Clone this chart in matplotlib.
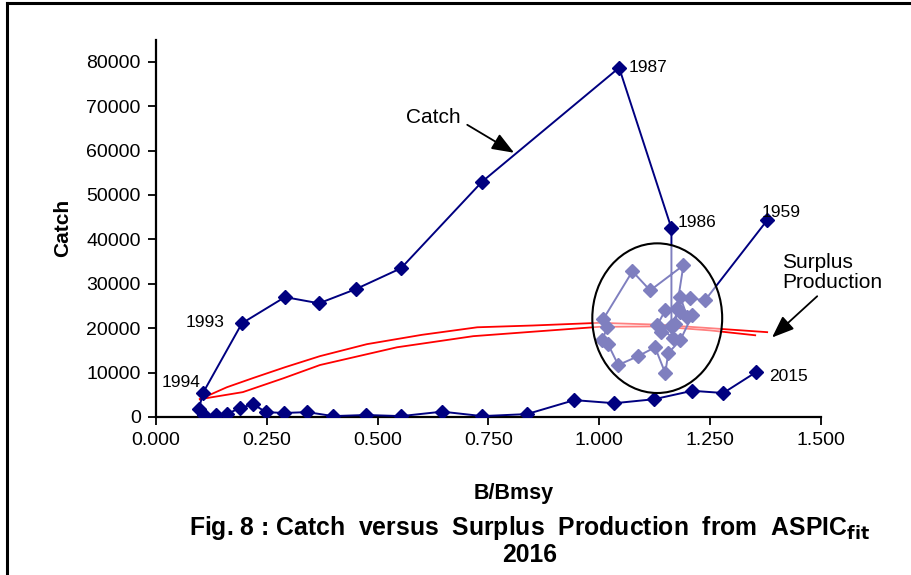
import numpy as np
import matplotlib.pyplot as plt
from matplotlib.patches import Ellipse
from matplotlib.lines import Line2D

# catch series, 1959..2015, in year order
years = list(range(1959, 2016))
b_ratio = [1.379,
           1.239, 1.205, 1.183, 1.199, 1.210, 1.183, 1.156, 1.149, 1.126, 1.088,
           1.043, 1.020, 1.007, 1.018, 1.009, 1.075, 1.115, 1.190, 1.175, 1.167,
           1.131, 1.149, 1.183, 1.140, 1.170, 1.163,
           1.163, 1.045, 0.736, 0.553, 0.451, 0.368, 0.291, 0.194, 0.106,
           0.097, 0.108, 0.135, 0.160, 0.190, 0.219, 0.248, 0.289, 0.341, 0.400,
           0.474, 0.553, 0.646, 0.736, 0.837, 0.944, 1.034, 1.124, 1.210, 1.280,
           1.354]
catch = [44300,
         26300, 26700, 27000, 22500, 22900, 17300, 14400, 9900, 15700, 13700,
         11700, 16400, 17300, 20200, 22000, 32800, 28500, 34150, 24500, 17750,
         20700, 24000, 23600, 19200, 21000, 20500,
         42500, 78650, 53000, 33500, 28800, 25600, 27000, 21100, 5400,
         1800, 450, 450, 700, 2000, 2900, 1100, 900, 1100, 200,
         450, 200, 1200, 200, 650, 3800, 3100, 4000, 5900, 5400,
         10100]

# surplus production curves
sp1_x = [0.099, 0.160, 0.220, 0.291, 0.370, 0.476, 0.600, 0.725, 0.850, 1.000, 1.130, 1.250, 1.379]
sp1_y = [4000, 6700, 8800, 11200, 13700, 16400, 18500, 20200, 20600, 21200, 20800, 20000, 19100]
sp2_x = [0.099, 0.196, 0.287, 0.370, 0.544, 0.716, 0.850, 1.000, 1.130, 1.250, 1.352]
sp2_y = [4000, 5600, 8700, 11700, 15700, 18200, 19200, 20300, 20400, 19500, 18400]

# year labels, offsets in pixels from the marker
labelled = {1987: (9, 0), 1986: (6, 6), 1959: (-6, 8), 1993: (-56, 1), 1994: (-41, 11), 2015: (13, -4)}

fig = plt.figure(figsize=(9.12, 5.75), dpi=100)
ax = fig.add_axes([0.171, 0.2748, 0.729, 0.6565])

ax.plot(sp1_x, sp1_y, color="red", lw=1.3, zorder=2)
ax.plot(sp2_x, sp2_y, color="red", lw=1.3, zorder=2)
ax.plot(b_ratio, catch, color="#000080", lw=1.4, marker="D", ms=7.5, zorder=3)

# circle round the early years, with a light fill over the points
ax.add_patch(Ellipse((1.131, 22250), 0.293, 33700, facecolor="white", alpha=0.5,
                     edgecolor="none", zorder=4))
ax.add_patch(Ellipse((1.131, 22250), 0.293, 33700, facecolor="none",
                     edgecolor="black", lw=1.5, zorder=5))

for yr, (dx, dy) in labelled.items():
    i = years.index(yr)
    ax.annotate(str(yr), (b_ratio[i], catch[i]), xytext=(dx, dy), textcoords="offset pixels",
                fontsize=12.5, va="center", ha="left", family="Liberation Sans")

ax.annotate("Catch", xy=(0.808, 59500), xytext=(0.688, 67500), fontsize=15,
            family="Liberation Sans", ha="right", va="center",
            arrowprops=dict(arrowstyle="-|>,head_length=0.9,head_width=0.35", color="black", lw=1.3,
                            shrinkA=3, shrinkB=0, relpos=(1.0, 0.3)))
ax.annotate("Surplus\nProduction", xy=(1.39, 17900), xytext=(1.413, 32600), fontsize=15,
            family="Liberation Sans", ha="left", va="center", linespacing=1.05,
            arrowprops=dict(arrowstyle="-|>,head_length=0.9,head_width=0.35", color="black", lw=1.3,
                            shrinkA=2, shrinkB=0, relpos=(0.4, 0.0)),
            annotation_clip=False)

ax.set_xlim(0, 1.5)
ax.set_ylim(0, 85000)
ax.set_xticks(np.arange(0, 1.501, 0.25))
ax.set_xticklabels(["{:.3f}".format(v) for v in np.arange(0, 1.501, 0.25)])
ax.set_yticks(range(0, 80001, 10000))
ax.tick_params(labelsize=14, length=6, width=1.3, direction="out", pad=5)
for lab in ax.get_xticklabels() + ax.get_yticklabels():
    lab.set_family("Liberation Sans")
for s in ["top", "right"]:
    ax.spines[s].set_visible(False)
for s in ["left", "bottom"]:
    ax.spines[s].set_linewidth(1.6)

ax.set_ylabel("Catch", fontsize=15, fontweight="bold", family="Liberation Sans", labelpad=10)
fig.text(0.563, 0.141, "B/Bmsy", fontsize=15.5, fontweight="bold", ha="center", va="center",
         family="Liberation Sans")
fig.text(0.581, 0.081, r"Fig. 8 : Catch  versus  Surplus  Production  from  ASPIC$_{\mathbf{fit}}$",
         fontsize=17.8, fontweight="bold", ha="center", va="center", family="Liberation Sans")
fig.text(0.581, 0.035, "2016", fontsize=17.8, fontweight="bold", ha="center", va="center",
         family="Liberation Sans")

# frame around the figure (only top and left show)
fig.add_artist(Line2D([7 / 912, 1.0], [1 - 3 / 575, 1 - 3 / 575], color="black", lw=2.2))
fig.add_artist(Line2D([7 / 912, 7 / 912], [1 - 3 / 575, 0.0], color="black", lw=2.2))

plt.savefig("out.png", dpi=100)
